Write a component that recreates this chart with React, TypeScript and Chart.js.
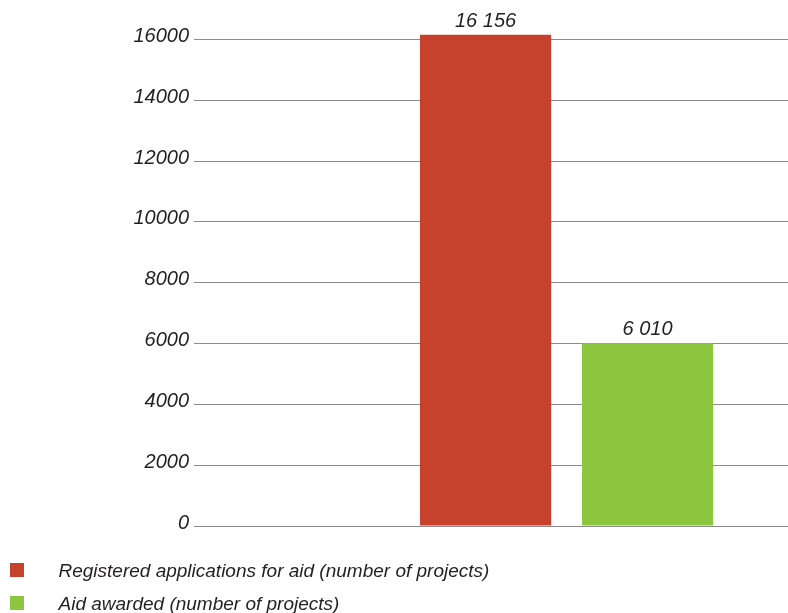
import React, { useEffect, useRef } from 'react';
import { Chart, registerables } from 'chart.js';

Chart.register(...registerables);

// ---- data ----
const categories = [
  'Registered applications for aid (number of projects)',
  'Aid awarded (number of projects)',
];
const values = [16156, 6010];
const colors = ['#C8412D', '#8DC63F'];
const yTicks = [0, 2000, 4000, 6000, 8000, 10000, 12000, 14000, 16000];
const yMax = 17000;

const FONT = "'Liberation Sans', Arial, Helvetica, sans-serif";
const TEXT = '#231F20';
const GRID = '#8c8c8c';

function fmt(v: number): string {
  return String(v).replace(/\B(?=(\d{3})+(?!\d))/g, ' ');
}

function makeSwatch(color: string): HTMLCanvasElement {
  const c = document.createElement('canvas');
  c.width = 43;
  c.height = 21;
  const ctx = c.getContext('2d')!;
  ctx.fillStyle = color;
  ctx.fillRect(0, 2, 14, 14);
  return c;
}

const valueLabels = {
  id: 'valueLabels',
  afterDatasetsDraw(chart: any) {
    const ctx = chart.ctx;
    const meta = chart.getDatasetMeta(0);
    ctx.save();
    ctx.font = `italic 20px ${FONT}`;
    ctx.fillStyle = TEXT;
    ctx.textAlign = 'center';
    ctx.textBaseline = 'alphabetic';
    meta.data.forEach((bar: any, i: number) => {
      ctx.fillText(fmt(values[i]), bar.x, bar.y - 8);
    });
    ctx.restore();
  },
};

export default function App() {
  const ref = useRef<HTMLCanvasElement | null>(null);

  useEffect(() => {
    document.body.style.margin = '0';
    document.body.style.overflow = 'hidden';
    const swatches = colors.map(makeSwatch);
    const chart = new Chart(ref.current!, {
      type: 'bar',
      data: {
        datasets: [
          {
            label: 'values',
            data: values.map((y, i) => ({ x: i, y })),
            backgroundColor: colors,
            borderWidth: 0,
            barPercentage: 0.81,
            categoryPercentage: 1,
          },
        ],
      },
      options: {
        responsive: false,
        devicePixelRatio: 1,
        animation: false,
        layout: { padding: { top: 9, left: 0, right: 0, bottom: 0 } },
        scales: {
          x: {
            type: 'linear',
            min: -1.8,
            max: 1.867,
            offset: false,
            grid: { display: false },
            border: { display: false },
            ticks: { display: false },
            afterBuildTicks: (s: any) => {
              s.ticks = [];
            },
            afterFit: (s: any) => {
              s.height = 22;
              s.paddingLeft = 0;
              s.paddingRight = 0;
            },
          },
          y: {
            min: 0,
            max: yMax,
            border: { display: false },
            grid: { color: GRID, lineWidth: 1, drawTicks: false },
            afterFit: (s: any) => {
              s.width = 194;
              s.paddingTop = 0;
              s.paddingBottom = 0;
            },
            afterBuildTicks: (s: any) => {
              s.ticks = yTicks.map((v) => ({ value: v }));
            },
            ticks: {
              padding: 5,
              labelOffset: -3,
              color: TEXT,
              font: { family: FONT, size: 20, style: 'italic' },
              callback: (v: any) => String(v),
            },
          },
        },
        plugins: {
          tooltip: { enabled: false },
          legend: {
            display: true,
            position: 'bottom',
            align: 'start',
            labels: {
              usePointStyle: true,
              pointStyleWidth: 35,
              padding: 14,
              color: TEXT,
              font: { family: FONT, size: 19, style: 'italic' },
              generateLabels: () =>
                categories.map((text, i) => ({
                  text,
                  fillStyle: colors[i],
                  strokeStyle: colors[i],
                  lineWidth: 0,
                  pointStyle: swatches[i] as any,
                  hidden: false,
                  index: i,
                  fontColor: TEXT,
                })),
            },
          },
        },
      },
      plugins: [valueLabels],
    } as any);
    return () => chart.destroy();
  }, []);

  return (
    <div style={{ position: 'fixed', left: 0, top: 0, width: 788, height: 624 }}>
      <canvas ref={ref} width={788} height={624} style={{ display: 'block' }} />
    </div>
  );
}
